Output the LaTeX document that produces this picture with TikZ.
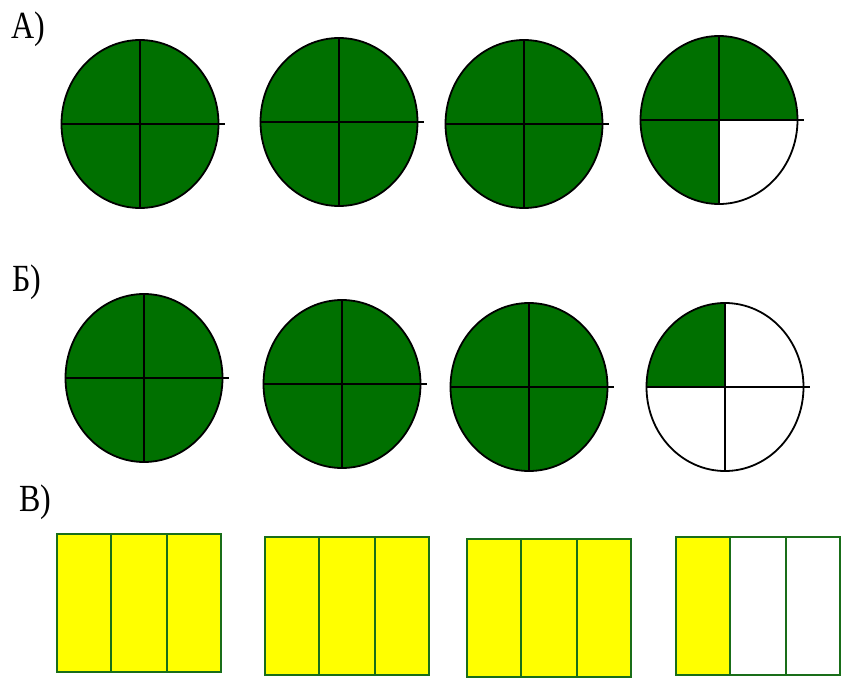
\documentclass[tikz,border=0pt]{standalone}
\usepackage{fontspec}
\usepackage{graphicx}
\setmainfont{Liberation Serif}
\usetikzlibrary{shapes.geometric,calc}
\definecolor{leafgreen}{RGB}{0,112,0}
\definecolor{barline}{RGB}{25,110,25}
\definecolor{lemon}{RGB}{255,255,0}

\tikzset{
  disc/.style={ellipse,draw=black,line width=1.8pt,minimum width=157pt,minimum height=168pt,inner sep=0pt},
  allgreen/.style={fill=leafgreen},
  threeq/.style={fill=white,path picture={
      \fill[leafgreen] (path picture bounding box.north west) rectangle (path picture bounding box.east);
      \fill[leafgreen] (path picture bounding box.west) rectangle (path picture bounding box.south);}},
  oneq/.style={fill=white,path picture={
      \fill[leafgreen] (path picture bounding box.north west) rectangle (path picture bounding box.center);}},
  divider/.style={draw=black,line width=2pt},
  bar/.style={rectangle,draw=barline,line width=2pt,minimum width=164pt,minimum height=138pt,inner sep=0pt},
  barsplit/.style={draw=barline,line width=2pt},
  allyellow/.style={fill=lemon},
  onethird/.style={fill=white,path picture={
      \fill[lemon] (path picture bounding box.north west) rectangle ($(path picture bounding box.south west)!1/3!(path picture bounding box.south east)$);}},
  lbl/.style={font=\fontsize{32}{32}\selectfont,inner sep=0pt}
}

\begin{document}
\begin{tikzpicture}[x=1pt,y=-1pt]
  \useasboundingbox (0,0) rectangle (842,677);

  % row labels
  \node[lbl] (la) at (28,29) {\scalebox{1}[1.2]{А)}};
  \node[lbl] (lb) at (27,282) {\scalebox{1}[1.2]{Б)}};
  \node[lbl] (lc) at (35,502) {\scalebox{1}[1.2]{В)}};

  % row A: circles in quarters
  \foreach \x/\y/\s [count=\i] in {140/124/allgreen, 339/122/allgreen, 524/124/allgreen, 719/120/threeq}
  {
    \node[disc,\s] (a\i) at (\x,\y) {};
    \draw[divider] (a\i.north) -- (a\i.south);
    \draw[divider] (a\i.west) -- ([xshift=6pt]a\i.east);
  }

  % row B
  \foreach \x/\y/\s [count=\i] in {144/378/allgreen, 342/384/allgreen, 529/387/allgreen, 725/387/oneq}
  {
    \node[disc,\s] (b\i) at (\x,\y) {};
    \draw[divider] (b\i.north) -- (b\i.south);
    \draw[divider] (b\i.west) -- ([xshift=6pt]b\i.east);
  }

  % row C: bars in thirds
  \foreach \x/\y/\s [count=\i] in {139/603/allyellow, 347/606/allyellow, 549/608/allyellow, 758/606/onethird}
  {
    \node[bar,\s] (c\i) at (\x,\y) {};
    \foreach \f in {1/3,2/3}
      \draw[barsplit] ($(c\i.north west)!\f!(c\i.north east)$) -- ($(c\i.south west)!\f!(c\i.south east)$);
  }
\end{tikzpicture}
\end{document}
